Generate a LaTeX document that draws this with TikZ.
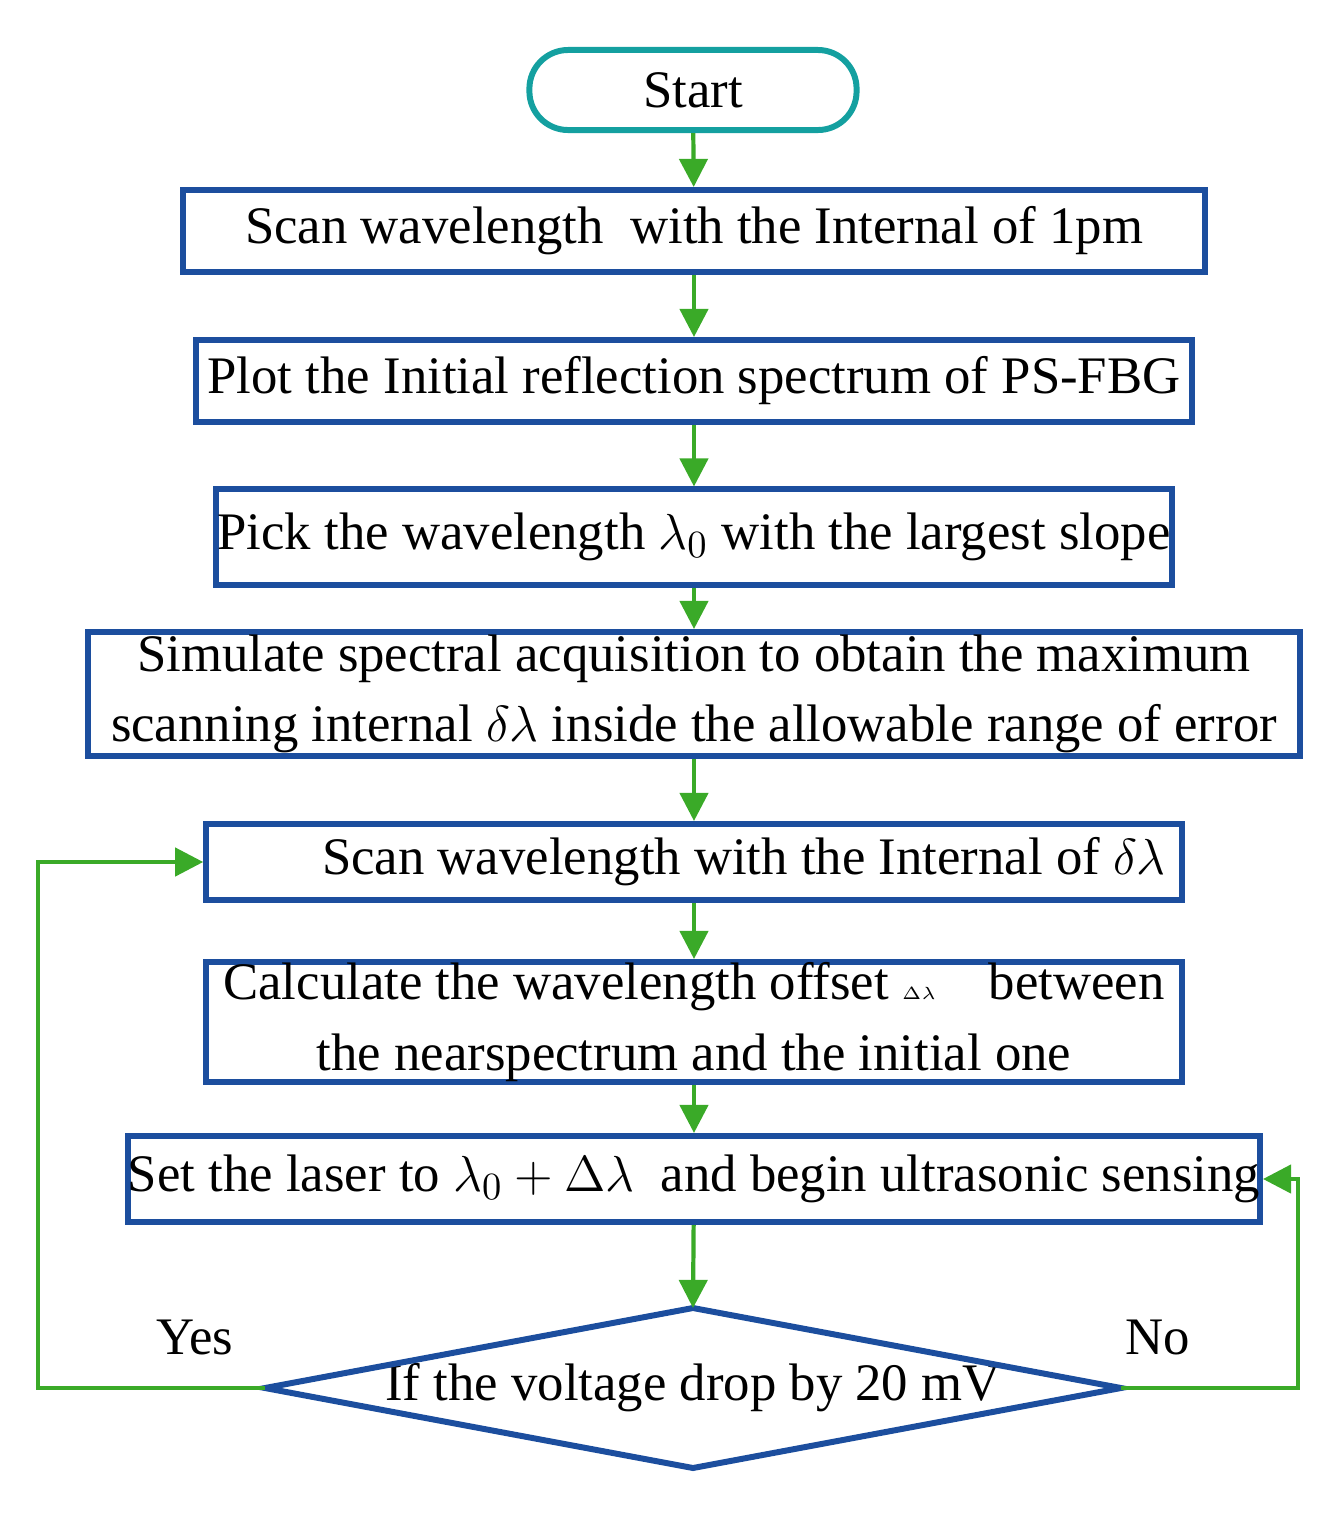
\documentclass[tikz,border=0pt]{standalone}
\usepackage{fontspec}
\setmainfont{Liberation Serif}
\usetikzlibrary{arrows.meta}
\definecolor{boxblue}{RGB}{28,78,158}
\definecolor{flowgreen}{RGB}{58,170,40}
\definecolor{startteal}{RGB}{20,160,160}
\tikzset{
  procbox/.style={draw=boxblue,line width=1.7pt,rectangle,inner sep=0pt,align=center,
    font=\fontsize{15}{20}\selectfont},
  flow/.style={draw=flowgreen,line width=1.2pt,->},
}
\begin{document}
\begin{tikzpicture}[x=0.01cm,y=-0.01cm,>={Triangle[width=8pt,length=8pt]}]
  \useasboundingbox (0,0) rectangle (1342,1517);
  % process boxes
  \node[draw=startteal,line width=1.7pt,rounded corners=11pt,minimum width=3.27cm,minimum height=0.8cm,
    font=\fontsize{15}{17}\selectfont] (start) at (693,90) {Start};
  \node[procbox,minimum width=10.22cm,minimum height=0.82cm] (scan) at (694,231) {Scan wavelength\ \ with the Internal of 1pm};
  \node[procbox,minimum width=9.95cm,minimum height=0.82cm] (plot) at (694,381) {Plot the Initial reflection spectrum of PS-FBG};
  \node[procbox,minimum width=9.55cm,minimum height=0.95cm] (pick) at (694,537) {Pick the wavelength $\lambda_0$ with the largest slope};
  \node[procbox,minimum width=12.12cm,minimum height=1.24cm] (sim) at (694,694) {Simulate spectral acquisition to obtain the maximum\\scanning internal $\delta\lambda$ inside the allowable range of error};
  \node[procbox,minimum width=9.75cm,minimum height=0.76cm] (rescan) at (694,862) {\hspace{1cm}Scan wavelength with the Internal of $\delta\lambda$};
  \node[procbox,minimum width=9.75cm,minimum height=1.2cm] (calc) at (694,1022) {Calculate the wavelength offset {\tiny$\Delta\lambda$}\quad between\\the nearspectrum and the initial one};
  \node[procbox,minimum width=11.08cm,minimum height=0.86cm] (laser) at (694,1179) {Set the laser to $\lambda_0+\Delta\lambda$\ \ and begin ultrasonic sensing};
  % decision
  \node[font=\fontsize{15}{17}\selectfont,inner sep=0pt] (dec) at (693,1388) {If the voltage drop by 20 mV};
  \draw[draw=boxblue,line width=1.7pt] (dec.center) ++(-428,0) coordinate (decW)
    -- ++(428,-80) coordinate (decN) -- ++(428,80) coordinate (decE) -- ++(-428,80) -- cycle;
  % connectors
  \draw[flow] (start) -- (scan);
  \draw[flow] (scan) -- (plot);
  \draw[flow] (plot) -- (pick);
  \draw[flow] (pick) -- (sim);
  \draw[flow] (sim) -- (rescan);
  \draw[flow] (rescan) -- (calc);
  \draw[flow] (calc) -- (laser);
  \draw[flow] (laser) -- (decN);
  \draw[flow] (decW) -- (38,1388) |- (rescan.west);
  \draw[flow] (decE) -- (1298,1388) |- (laser.east);
  \node[font=\fontsize{15}{17}\selectfont] (yes) at (195,1337) {Yes};
  \node[font=\fontsize{15}{17}\selectfont] (no) at (1158,1337) {No};
\end{tikzpicture}
\end{document}
